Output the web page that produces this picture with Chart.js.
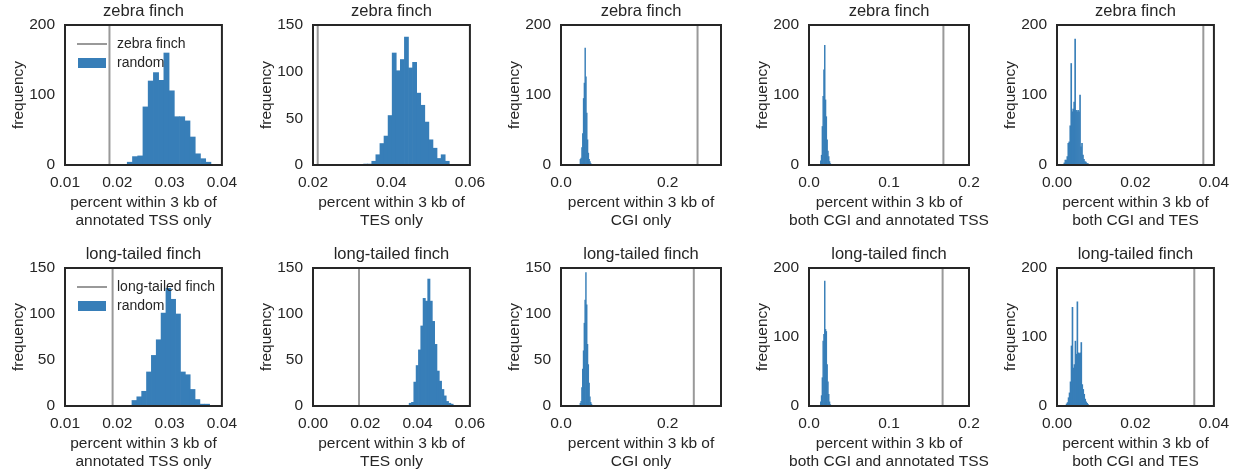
<!DOCTYPE html>
<html>
<head>
<meta charset="utf-8">
<script src="https://cdn.jsdelivr.net/npm/chart.js@4.4.1/dist/chart.umd.min.js"></script>
<style>
  html, body { margin: 0; padding: 0; background: #fff; }
  #figure { position: relative; width: 1239px; height: 473px; overflow: hidden; }
  .panel { position: absolute; }
</style>
</head>
<body>
<div id="figure"></div>
<script>
// species shown in each row, and the region each column counts
const species = ['zebra finch', 'long-tailed finch'];
const regionLabels = [
    ['percent within 3 kb of', 'annotated TSS only'],
    ['percent within 3 kb of', 'TES only'],
    ['percent within 3 kb of', 'CGI only'],
    ['percent within 3 kb of', 'both CGI and annotated TSS'],
    ['percent within 3 kb of', 'both CGI and TES']
];

// random-placement histograms (counts per bin), zebra finch
const zebraCounts = [
    [4, 12, 13, 83, 120, 132, 121, 160, 106, 69, 69, 63, 40, 16, 9, 4],
    [1, 1, 4, 11, 23, 31, 53, 120, 101, 113, 137, 104, 110, 77, 64, 46, 27, 18, 7, 11, 4],
    [8, 10, 25, 45, 95, 117, 167, 126, 74, 36, 17, 8, 5, 2, 1],
    [6, 14, 55, 98, 136, 171, 93, 69, 36, 20, 12, 5, 2],
    [3, 7, 7, 12, 31, 33, 56, 145, 76, 80, 90, 180, 78, 76, 78, 76, 100, 26, 31, 14, 8, 5, 4, 2, 2, 0, 0, 1]
];
const zebraBinStart = [0.0219, 0.0329, 0.0356, 0.0142, 0.00175];
const zebraBinWidth = [0.001, 0.00104, 0.0015, 0.001, 0.00025];
const zebraObserved = [0.0185, 0.0212, 0.256, 0.168, 0.0373];

// same for long-tailed finch
const longCounts = [
    [6, 10, 16, 37, 55, 72, 101, 128, 116, 100, 37, 34, 18, 7, 2, 2],
    [3, 4, 26, 44, 61, 87, 117, 114, 138, 114, 92, 67, 38, 27, 18, 11, 5, 3, 2],
    [3, 5, 20, 40, 60, 90, 115, 145, 110, 67, 45, 25, 10, 4, 2],
    [6, 15, 41, 94, 104, 181, 111, 108, 60, 35, 17, 6, 2],
    [3, 5, 12, 19, 35, 87, 143, 55, 60, 94, 75, 151, 77, 76, 77, 92, 31, 24, 17, 10, 6, 4, 2]
];
const longBinStart = [0.0228, 0.03676, 0.0355, 0.0142, 0.00232];
const longBinWidth = [0.000928, 0.000887, 0.0015, 0.001, 0.00025];
const longObserved = [0.0191, 0.0176, 0.249, 0.167, 0.035];

// axes
const xMax = [0.04, 0.06, 0.3, 0.2, 0.04];
const zebraXTicks = [[0.01, 0.02, 0.03, 0.04], [0.02, 0.04, 0.06], [0, 0.2], [0, 0.1, 0.2], [0, 0.02, 0.04]];
const zebraXLabels = [['0.01', '0.02', '0.03', '0.04'], ['0.02', '0.04', '0.06'], ['0.0', '0.2'], ['0.0', '0.1', '0.2'], ['0.00', '0.02', '0.04']];
const longXTicks = [[0.01, 0.02, 0.03, 0.04], [0, 0.02, 0.04, 0.06], [0, 0.2], [0, 0.1, 0.2], [0, 0.02, 0.04]];
const longXLabels = [['0.01', '0.02', '0.03', '0.04'], ['0.00', '0.02', '0.04', '0.06'], ['0.0', '0.2'], ['0.0', '0.1', '0.2'], ['0.00', '0.02', '0.04']];
const zebraYTicks = [[0, 100, 200], [0, 50, 100, 150], [0, 100, 200], [0, 100, 200], [0, 100, 200]];
const longYTicks = [[0, 50, 100, 150], [0, 50, 100, 150], [0, 50, 100, 150], [0, 100, 200], [0, 100, 200]];

const rows = [
    { counts: zebraCounts, start: zebraBinStart, width: zebraBinWidth, observed: zebraObserved,
      xTicks: zebraXTicks, xLabels: zebraXLabels, yTicks: zebraYTicks },
    { counts: longCounts, start: longBinStart, width: longBinWidth, observed: longObserved,
      xTicks: longXTicks, xLabels: longXLabels, yTicks: longYTicks }
];

const INK = '#262626';
const BLUE = '#377eb8';
const GREY = '#999999';
const FONT = '"Liberation Sans", Arial, sans-serif';

Chart.defaults.font.family = FONT;
Chart.defaults.color = INK;

// layout of the 2 x 5 grid (canvas offsets, plot box sizes)
const COL_STEP = 248;
const ROW_TOP = [0, 243];
const BOX_H = [140, 138];
const BOX_W = 160;
const LEFT_AXIS = 65;
const TOP_TITLE = 25;
const BOTTOM_AXIS = 70;
const RIGHT_PAD = 20;

// black frame round the plot area
const framePlugin = {
    id: 'frame',
    afterDatasetsDraw(chart) {
        const {ctx, chartArea: a} = chart;
        ctx.save();
        ctx.strokeStyle = INK;
        ctx.lineWidth = 2;
        ctx.strokeRect(a.left, a.top, a.right - a.left, a.bottom - a.top);
        ctx.restore();
    }
};

// two-line x caption; drawn here so the long lines are not squeezed to the plot width
const xCaption = {
    id: 'xCaption',
    afterDraw(chart, args, opts) {
        const {ctx, chartArea: a} = chart;
        const cx = (a.left + a.right) / 2;
        ctx.save();
        ctx.font = '15.5px ' + FONT;
        ctx.fillStyle = INK;
        ctx.textAlign = 'center';
        ctx.textBaseline = 'middle';
        opts.lines.forEach((t, i) => ctx.fillText(t, cx, a.bottom + 38 + i * 18));
        ctx.restore();
    }
};

// legend sitting inside the top-left corner of the plot
const innerLegend = {
    id: 'innerLegend',
    afterDraw(chart, args, opts) {
        if (!opts.display) return;
        const {ctx, chartArea: a} = chart;
        const line = chart.data.datasets[0];
        const hist = chart.data.datasets[1];
        ctx.save();
        ctx.font = '14px ' + FONT;
        ctx.textBaseline = 'middle';
        ctx.textAlign = 'left';

        ctx.strokeStyle = line.borderColor;
        ctx.lineWidth = 2;
        ctx.beginPath();
        ctx.moveTo(a.left + 12, a.top + 19);
        ctx.lineTo(a.left + 42, a.top + 19);
        ctx.stroke();
        ctx.fillStyle = INK;
        ctx.fillText(line.label, a.left + 52, a.top + 19);

        ctx.fillStyle = hist.backgroundColor;
        ctx.fillRect(a.left + 13, a.top + 33, 28, 10);
        ctx.fillStyle = INK;
        ctx.fillText(hist.label, a.left + 52, a.top + 38);
        ctx.restore();
    }
};

const figure = document.getElementById('figure');

function drawPanel(r, c) {
    const row = rows[r];
    const counts = row.counts[c];
    const start = row.start[c];
    const width = row.width[c];
    const xTicks = row.xTicks[c];
    const xLabels = row.xLabels[c];
    const yTicks = row.yTicks[c];
    const yMax = yTicks[yTicks.length - 1];

    const wrap = document.createElement('div');
    wrap.className = 'panel';
    wrap.style.left = (c * COL_STEP) + 'px';
    wrap.style.top = ROW_TOP[r] + 'px';
    const canvas = document.createElement('canvas');
    canvas.width = LEFT_AXIS + BOX_W + RIGHT_PAD;
    canvas.height = TOP_TITLE + BOX_H[r] + BOTTOM_AXIS;
    wrap.appendChild(canvas);
    figure.appendChild(wrap);

    const bins = counts.map((n, i) => ({ x: start + (i + 0.5) * width, y: n }));

    new Chart(canvas.getContext('2d'), {
        type: 'bar',
        data: {
            datasets: [{
                type: 'line',
                label: species[r],
                data: [{ x: row.observed[c], y: 0 }, { x: row.observed[c], y: yMax }],
                borderColor: GREY,
                borderWidth: 2,
                pointRadius: 0
            }, {
                type: 'bar',
                label: 'random',
                data: bins,
                backgroundColor: BLUE,
                borderWidth: 0,
                barPercentage: 1,
                categoryPercentage: 1
            }]
        },
        options: {
            responsive: false,
            animation: false,
            events: [],
            layout: { padding: { left: 0, right: RIGHT_PAD, top: 0, bottom: 0 } },
            scales: {
                x: {
                    type: 'linear',
                    min: xTicks[0],
                    max: xMax[c],
                    offset: false,
                    grid: { display: false, drawTicks: false },
                    border: { display: false },
                    afterBuildTicks: s => { s.ticks = xTicks.map(v => ({ value: v })); },
                    afterFit: s => { s.height = BOTTOM_AXIS; },
                    ticks: {
                        autoSkip: false,
                        maxRotation: 0,
                        padding: 8,
                        color: INK,
                        font: { size: 15.5 },
                        callback: (v, i) => xLabels[i]
                    }
                },
                y: {
                    min: 0,
                    max: yMax,
                    grid: { display: false, drawTicks: false },
                    border: { display: false },
                    afterBuildTicks: s => { s.ticks = yTicks.map(v => ({ value: v })); },
                    afterFit: s => { s.width = LEFT_AXIS; },
                    ticks: {
                        padding: 10,
                        color: INK,
                        font: { size: 15.5 },
                        callback: v => String(v)
                    },
                    title: {
                        display: true,
                        text: 'frequency',
                        color: INK,
                        font: { size: 15.5, lineHeight: 1.2 },
                        padding: { top: 9, bottom: 0 }
                    }
                }
            },
            plugins: {
                legend: { display: false },
                tooltip: { enabled: false },
                title: {
                    display: true,
                    text: species[r],
                    color: INK,
                    fullSize: false,
                    font: { size: 16.5, weight: 'normal', lineHeight: 1.2 },
                    padding: { top: 2, bottom: 3.2 }
                },
                xCaption: { lines: regionLabels[c] },
                innerLegend: { display: c === 0 }
            }
        },
        plugins: [framePlugin, xCaption, innerLegend]
    });
}

for (let r = 0; r < rows.length; r++) {
    for (let c = 0; c < 5; c++) drawPanel(r, c);
}
</script>
</body>
</html>
